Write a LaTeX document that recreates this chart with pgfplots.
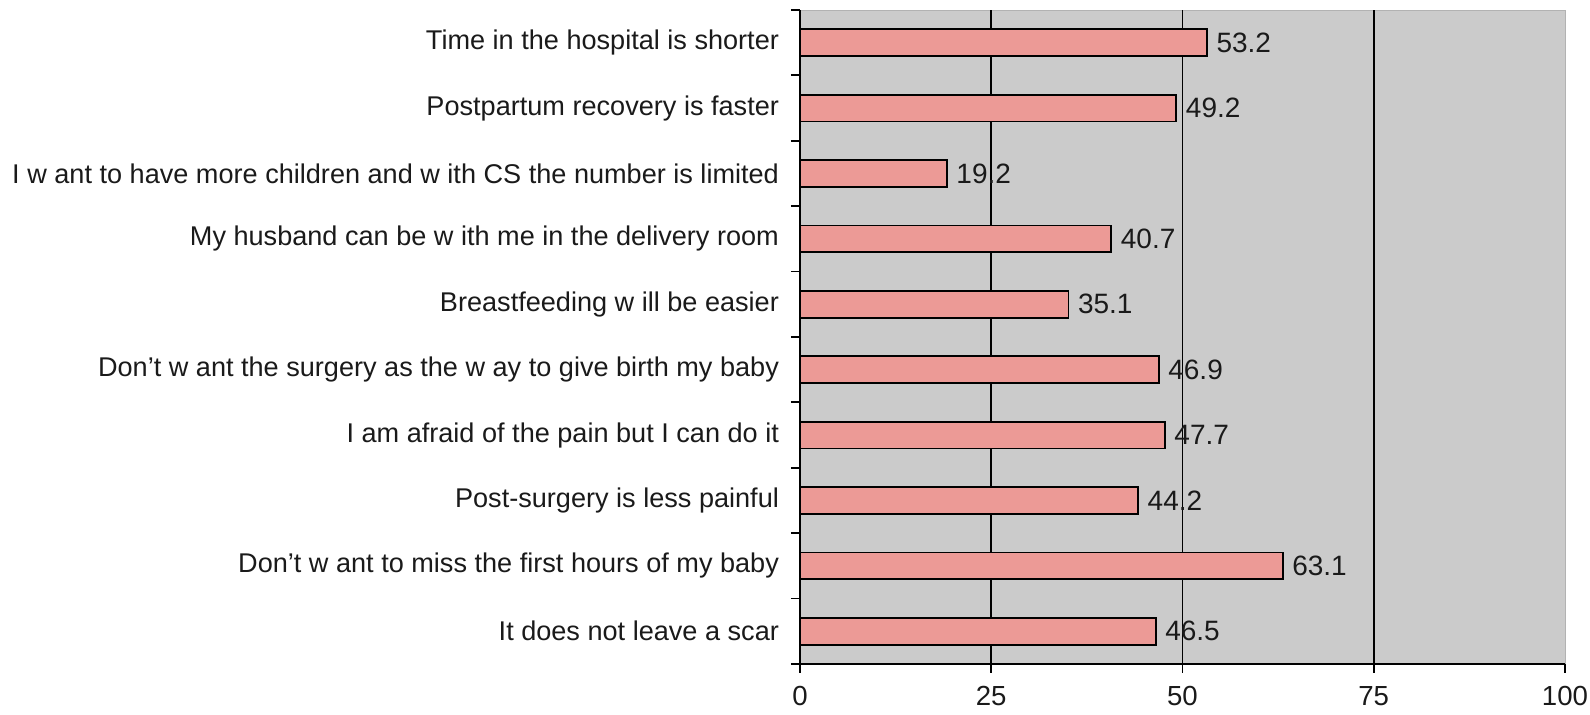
\documentclass[border=0pt]{standalone}
\usepackage{fontspec}
\setmainfont{Liberation Sans}
\usepackage{pgfplots}
\pgfplotsset{compat=1.18}
\definecolor{barfill}{HTML}{EC9A96}
\definecolor{plotgray}{HTML}{CBCBCB}
\definecolor{txt}{HTML}{1A1A1A}
\begin{document}
\begin{tikzpicture}
\begin{axis}[
  scale only axis,
  width=382.5pt, height=327pt,
  xbar, bar width=0.41,
  xmin=0, xmax=100,
  ymin=-0.5, ymax=9.5,
  axis background/.style={fill=plotgray, draw=gray!60},
  axis x line*=bottom, axis y line*=left,
  axis line style={black, line width=0.9pt},
  xtick={0,25,50,75},
  extra x ticks={100},
  extra x tick style={grid=none},
  xmajorgrids,
  grid style={black, line width=0.9pt},
  ytick={0,...,9},
  minor ytick={-0.5,0.5,...,9.5},
  major y tick style={draw=none},
  tick align=outside,
  major tick length=4.5pt,
  minor tick length=4.5pt,
  tick style={black, line width=0.9pt},
  yticklabels={
    It does not leave a scar,
    Don’t w ant to miss the first hours of my baby,
    Post-surgery is less painful,
    I am afraid of the pain but I can do it,
    Don’t w ant the surgery as the w ay to give birth my baby,
    Breastfeeding w ill be easier,
    My husband can be w ith me in the delivery room,
    I w ant to have more children and w ith CS the number is limited,
    Postpartum recovery is faster,
    Time in the hospital is shorter},
  ticklabel style={font=\fontsize{13.8}{16}\selectfont, text=txt},
  yticklabel style={xshift=-2.5pt, font=\fontsize{13.55}{16}\selectfont},
  xticklabel style={yshift=-3pt},
  /pgf/number format/assume math mode=true,
  point meta=explicit symbolic,
  nodes near coords,
  every node near coord/.append style={font=\fontsize{14}{16}\selectfont, text=txt, anchor=west, xshift=1pt},
  clip=false,
]
\addplot[fill=barfill, draw=black, line width=0.9pt] coordinates {
  (46.5,0) [46.5]
  (63.1,1) [63.1]
  (44.2,2) [44.2]
  (47.7,3) [47.7]
  (46.9,4) [46.9]
  (35.1,5) [35.1]
  (40.7,6) [40.7]
  (19.2,7) [19.2]
  (49.2,8) [49.2]
  (53.2,9) [53.2]
};
\end{axis}
\pgfresetboundingbox
\path[use as bounding box] (-400pt,-25.5pt) rectangle (395pt,332pt);
\end{tikzpicture}
\end{document}
